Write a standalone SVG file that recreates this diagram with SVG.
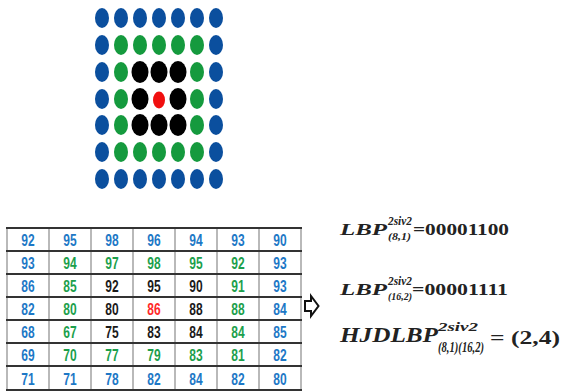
<svg xmlns="http://www.w3.org/2000/svg" width="568" height="392" viewBox="0 0 568 392">
  <style>
    .b { fill: #0b4f9e; }
    .g { fill: #159a3e; }
    .k { fill: #000; }
    .r { fill: #f00f0f; }
    .grid-v { stroke: #8a8a8a; stroke-width: 1.2; }
    .grid-h { stroke: #333; stroke-width: 2; }
    .num { font-family: "Liberation Sans Narrow", "Liberation Sans", sans-serif; font-weight: bold; font-size: 16px; text-anchor: middle; }
    .tb { fill: #1d78c6; }
    .tg { fill: #1c9f4c; }
    .tk { fill: #1a1a1a; }
    .tr { fill: #ff2a2a; }
    .f { font-family: "Liberation Serif", serif; font-style: italic; font-weight: bold; fill: #222; }
    .d { font-family: "Liberation Serif", serif; font-weight: bold; fill: #222; }
  </style>

  <!-- neighbourhood of sampling points -->
  <g id="neighbourhood">
    <g id="row1">
      <ellipse class="b" cx="102" cy="18" rx="7" ry="10"/><ellipse class="b" cx="121" cy="18" rx="7" ry="10"/><ellipse class="b" cx="140" cy="18" rx="7" ry="10"/><ellipse class="b" cx="159" cy="18" rx="7" ry="10"/><ellipse class="b" cx="178" cy="18" rx="7" ry="10"/><ellipse class="b" cx="197" cy="18" rx="7" ry="10"/><ellipse class="b" cx="216" cy="18" rx="7" ry="10"/>
    </g>
    <g id="row2">
      <ellipse class="b" cx="102" cy="45" rx="7" ry="10"/><ellipse class="g" cx="121" cy="45" rx="7" ry="10"/><ellipse class="g" cx="140" cy="45" rx="7" ry="10"/><ellipse class="g" cx="159" cy="45" rx="7" ry="10"/><ellipse class="g" cx="178" cy="45" rx="7" ry="10"/><ellipse class="g" cx="197" cy="45" rx="7" ry="10"/><ellipse class="b" cx="216" cy="45" rx="7" ry="10"/>
    </g>
    <g id="row3">
      <ellipse class="b" cx="102" cy="72" rx="7" ry="10"/><ellipse class="g" cx="121" cy="72" rx="7" ry="10"/><ellipse class="k" cx="140" cy="72" rx="8.5" ry="11"/><ellipse class="k" cx="159" cy="72" rx="8.5" ry="11"/><ellipse class="k" cx="178" cy="72" rx="8.5" ry="11"/><ellipse class="g" cx="197" cy="72" rx="7" ry="10"/><ellipse class="b" cx="216" cy="72" rx="7" ry="10"/>
    </g>
    <g id="row4">
      <ellipse class="b" cx="102" cy="99" rx="7" ry="10"/><ellipse class="g" cx="121" cy="99" rx="7" ry="10"/><ellipse class="k" cx="140" cy="99" rx="8.5" ry="11"/><ellipse class="r" cx="159" cy="100" rx="6" ry="8.5"/><ellipse class="k" cx="178" cy="99" rx="8.5" ry="11"/><ellipse class="g" cx="197" cy="99" rx="7" ry="10"/><ellipse class="b" cx="216" cy="99" rx="7" ry="10"/>
    </g>
    <g id="row5">
      <ellipse class="b" cx="102" cy="125" rx="7" ry="10"/><ellipse class="g" cx="121" cy="125" rx="7" ry="10"/><ellipse class="k" cx="140" cy="125" rx="8.5" ry="11"/><ellipse class="k" cx="159" cy="125" rx="8.5" ry="11"/><ellipse class="k" cx="178" cy="125" rx="8.5" ry="11"/><ellipse class="g" cx="197" cy="125" rx="7" ry="10"/><ellipse class="b" cx="216" cy="125" rx="7" ry="10"/>
    </g>
    <g id="row6">
      <ellipse class="b" cx="102" cy="152" rx="7" ry="10"/><ellipse class="g" cx="121" cy="152" rx="7" ry="10"/><ellipse class="g" cx="140" cy="152" rx="7" ry="10"/><ellipse class="g" cx="159" cy="152" rx="7" ry="10"/><ellipse class="g" cx="178" cy="152" rx="7" ry="10"/><ellipse class="g" cx="197" cy="152" rx="7" ry="10"/><ellipse class="b" cx="216" cy="152" rx="7" ry="10"/>
    </g>
    <g id="row7">
      <ellipse class="b" cx="102" cy="179" rx="7" ry="10"/><ellipse class="b" cx="121" cy="179" rx="7" ry="10"/><ellipse class="b" cx="140" cy="179" rx="7" ry="10"/><ellipse class="b" cx="159" cy="179" rx="7" ry="10"/><ellipse class="b" cx="178" cy="179" rx="7" ry="10"/><ellipse class="b" cx="197" cy="179" rx="7" ry="10"/><ellipse class="b" cx="216" cy="179" rx="7" ry="10"/>
    </g>
  </g>

  <!-- grey-level table -->
  <g id="table">
    <rect x="7" y="228" width="294" height="162" fill="#fff"/>
    <g class="grid-v">
      <line x1="7" y1="228" x2="7" y2="391"/><line x1="49" y1="228" x2="49" y2="391"/><line x1="91" y1="228" x2="91" y2="391"/><line x1="133" y1="228" x2="133" y2="391"/><line x1="175" y1="228" x2="175" y2="391"/><line x1="217" y1="228" x2="217" y2="391"/><line x1="259" y1="228" x2="259" y2="391"/><line x1="301" y1="228" x2="301" y2="391"/>
    </g>
    <g class="grid-h">
      <line x1="6" y1="228" x2="302" y2="228"/><line x1="6" y1="251" x2="302" y2="251"/><line x1="6" y1="274" x2="302" y2="274"/><line x1="6" y1="297" x2="302" y2="297"/><line x1="6" y1="320" x2="302" y2="320"/><line x1="6" y1="343" x2="302" y2="343"/><line x1="6" y1="366" x2="302" y2="366"/><line x1="6" y1="390" x2="302" y2="390"/>
    </g>
    <!-- narrow digits: horizontal scale 0.75, so x = cell centre / 0.75 -->
    <g class="num" transform="scale(0.75,1)">
      <text class="tb" x="37.3" y="246">92</text><text class="tb" x="93.3" y="246">95</text><text class="tb" x="149.3" y="246">98</text><text class="tb" x="205.3" y="246">96</text><text class="tb" x="261.3" y="246">94</text><text class="tb" x="317.3" y="246">93</text><text class="tb" x="373.3" y="246">90</text>
      <text class="tb" x="37.3" y="269">93</text><text class="tg" x="93.3" y="269">94</text><text class="tg" x="149.3" y="269">97</text><text class="tg" x="205.3" y="269">98</text><text class="tg" x="261.3" y="269">95</text><text class="tg" x="317.3" y="269">92</text><text class="tb" x="373.3" y="269">93</text>
      <text class="tb" x="37.3" y="292">86</text><text class="tg" x="93.3" y="292">85</text><text class="tk" x="149.3" y="292">92</text><text class="tk" x="205.3" y="292">95</text><text class="tk" x="261.3" y="292">90</text><text class="tg" x="317.3" y="292">91</text><text class="tb" x="373.3" y="292">93</text>
      <text class="tb" x="37.3" y="315">82</text><text class="tg" x="93.3" y="315">80</text><text class="tk" x="149.3" y="315">80</text><text class="tr" x="205.3" y="315">86</text><text class="tk" x="261.3" y="315">88</text><text class="tg" x="317.3" y="315">88</text><text class="tb" x="373.3" y="315">84</text>
      <text class="tb" x="37.3" y="338">68</text><text class="tg" x="93.3" y="338">67</text><text class="tk" x="149.3" y="338">75</text><text class="tk" x="205.3" y="338">83</text><text class="tk" x="261.3" y="338">84</text><text class="tg" x="317.3" y="338">84</text><text class="tb" x="373.3" y="338">85</text>
      <text class="tb" x="37.3" y="361">69</text><text class="tg" x="93.3" y="361">70</text><text class="tg" x="149.3" y="361">77</text><text class="tg" x="205.3" y="361">79</text><text class="tg" x="261.3" y="361">83</text><text class="tg" x="317.3" y="361">81</text><text class="tb" x="373.3" y="361">82</text>
      <text class="tb" x="37.3" y="385">71</text><text class="tb" x="93.3" y="385">71</text><text class="tb" x="149.3" y="385">78</text><text class="tb" x="205.3" y="385">82</text><text class="tb" x="261.3" y="385">84</text><text class="tb" x="317.3" y="385">82</text><text class="tb" x="373.3" y="385">80</text>
    </g>
  </g>

  <!-- arrow pointing to the results -->
  <g id="connectors">
    <path d="M305 301 H311 V296 L318.5 306 L311 316 V311 H305 Z" fill="#fff" stroke="#111" stroke-width="2" stroke-linejoin="miter"/>
  </g>

  <!-- results -->
  <g id="lbp81">
    <text class="f" x="340" y="235" font-size="17" textLength="47" lengthAdjust="spacingAndGlyphs">LBP</text>
    <text class="f" x="388" y="225" font-size="12" textLength="24" lengthAdjust="spacingAndGlyphs">2siv2</text>
    <text class="f" x="388" y="240" font-size="11" textLength="23" lengthAdjust="spacingAndGlyphs">(8,1)</text>
    <text class="d" x="413" y="235" font-size="17" textLength="96" lengthAdjust="spacingAndGlyphs">=00001100</text>
  </g>
  <g id="lbp162">
    <text class="f" x="340" y="295" font-size="17" textLength="47" lengthAdjust="spacingAndGlyphs">LBP</text>
    <text class="f" x="388" y="285" font-size="12" textLength="24" lengthAdjust="spacingAndGlyphs">2siv2</text>
    <text class="f" x="388" y="300" font-size="11" textLength="24" lengthAdjust="spacingAndGlyphs">(16,2)</text>
    <text class="d" x="412" y="295" font-size="17" textLength="96" lengthAdjust="spacingAndGlyphs">=00001111</text>
  </g>
  <g id="hjdlbp">
    <text class="f" x="340" y="342" font-size="20" textLength="98" lengthAdjust="spacingAndGlyphs">HJDLBP</text>
    <text class="f" x="438" y="331" font-size="13" textLength="40" lengthAdjust="spacingAndGlyphs">2siv2</text>
    <text class="f" x="438" y="352" font-size="14" textLength="46" lengthAdjust="spacingAndGlyphs">(8,1)(16,2)</text>
    <text class="d" x="490" y="344" font-size="18" textLength="70" lengthAdjust="spacingAndGlyphs">= (2,4)</text>
  </g>
</svg>
